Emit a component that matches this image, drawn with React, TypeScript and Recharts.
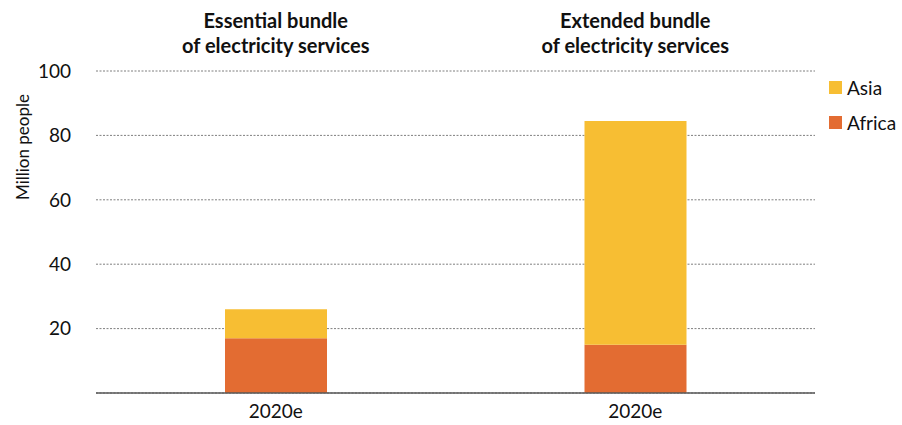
import React from 'react';
import { BarChart, Bar, XAxis, YAxis, CartesianGrid, Legend } from 'recharts';

const categories = ['2020e', '2020e'];
const titles = [
  ['Essential bundle', 'of electricity services'],
  ['Extended bundle', 'of electricity services'],
];
const africa = [17, 15];
const asia = [9, 69.5];
const yTicks = [20, 40, 60, 80, 100];

const data = categories.map((c, i) => ({
  key: `${c}-${i}`,
  label: c,
  title: i,
  africa: africa[i],
  asia: asia[i],
}));

const FONT = 'Lato, "Open Sans", sans-serif';

const TitleTick = (props: any) => {
  const { x, payload } = props;
  const lines = titles[payload.value];
  return (
    <text x={x} textAnchor="middle" fontFamily={FONT} fontWeight={700} fontSize={20} fill="#111">
      <tspan x={x} y={28}>{lines[0]}</tspan>
      <tspan x={x} y={53}>{lines[1]}</tspan>
    </text>
  );
};

const BottomTick = (props: any) => {
  const { x, y, index } = props;
  return (
    <text x={x} y={y + 17} textAnchor="middle" fontFamily={FONT} fontSize={19} fill="#111">
      {categories[index]}
    </text>
  );
};

const YLabel = (props: any) => {
  const { viewBox } = props;
  const x = viewBox.x + 29;
  const y = 147;
  return (
    <text
      x={x}
      y={y}
      transform={`rotate(-90 ${x} ${y})`}
      textAnchor="middle"
      fontFamily={FONT}
      fontSize={17}
      fill="#111"
    >
      Million people
    </text>
  );
};

const LegendBox = () => {
  const items = [
    { name: 'Asia', color: '#F7BE33' },
    { name: 'Africa', color: '#E36C32' },
  ];
  return (
    <div style={{ fontFamily: FONT, fontSize: 19, color: '#111' }}>
      {items.map((it) => (
        <div key={it.name} style={{ display: 'flex', alignItems: 'center', height: 35 }}>
          <span style={{ width: 13, height: 13, background: it.color, marginRight: 5, display: 'inline-block' }} />
          {it.name}
        </div>
      ))}
    </div>
  );
};

export default function App() {
  return (
    <div style={{ position: 'absolute', left: 0, top: 0, width: 902, height: 425, background: '#fff' }}>
      <BarChart width={902} height={425} data={data} margin={{ top: 0, right: 7, bottom: 0, left: 0 }}>
        <CartesianGrid vertical={false} stroke="#7f7f7f" strokeDasharray="2 1.5" />
        <XAxis
          xAxisId="top"
          orientation="top"
          dataKey="title"
          height={71}
          axisLine={false}
          tickLine={false}
          tick={<TitleTick />}
          interval={0}
        />
        <XAxis
          dataKey="key"
          height={32}
          axisLine={{ stroke: '#595959', strokeWidth: 1.5 }}
          tickLine={false}
          tick={<BottomTick />}
          interval={0}
        />
        <YAxis
          width={96}
          domain={[0, 100]}
          ticks={yTicks}
          axisLine={false}
          tickLine={false}
          tick={{ fill: '#111', fontSize: 19, fontFamily: FONT }}
          tickMargin={19}
          label={<YLabel />}
        />
        <Legend
          layout="vertical"
          align="right"
          verticalAlign="top"
          content={<LegendBox />}
          wrapperStyle={{ left: 829, top: 70, width: 80 }}
        />
        <Bar dataKey="africa" name="Africa" stackId="a" fill="#E36C32" barSize={102} isAnimationActive={false} />
        <Bar dataKey="asia" name="Asia" stackId="a" fill="#F7BE33" barSize={102} isAnimationActive={false} />
      </BarChart>
    </div>
  );
}
